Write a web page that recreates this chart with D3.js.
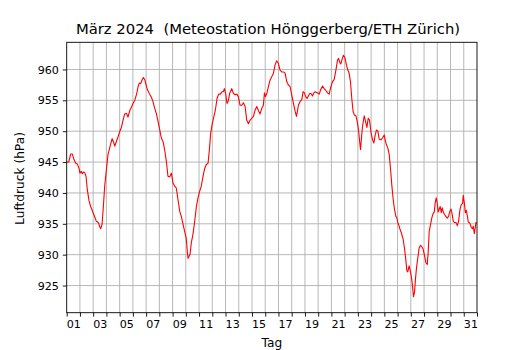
<!DOCTYPE html>
<html>
<head>
<meta charset="utf-8">
<script src="https://cdn.jsdelivr.net/npm/d3@7"></script>
<style>
  body { margin: 0; background: #fff; }
  svg { font-family: "DejaVu Sans", sans-serif; }
</style>
</head>
<body>
<svg id="chart" width="530" height="350"></svg>
<script>
// Zeit in Tagen seit 1. März 00:00, Luftdruck in hPa
const tag = [
  0.00, 0.15, 0.30, 0.43, 0.55, 0.68, 0.80, 0.93, 1.00, 1.10, 1.18, 1.26, 1.36, 1.46, 1.56, 1.69, 1.81, 1.96,
  2.12, 2.24, 2.39, 2.52, 2.57, 2.67, 2.77, 2.87, 3.00, 3.12, 3.27, 3.43, 3.53, 3.63, 3.75, 3.88, 4.00, 4.13,
  4.26, 4.38, 4.51, 4.63, 4.76, 4.91, 5.04, 5.16, 5.29, 5.39, 5.49, 5.59, 5.69, 5.79, 5.89, 5.99, 6.10,
  6.27, 6.40, 6.52, 6.65, 6.77, 6.90, 7.03, 7.15, 7.28, 7.40, 7.53, 7.65, 7.78, 7.91, 8.03, 8.16, 8.28, 8.41,
  8.54, 8.66, 8.79, 8.91, 9.04, 9.12, 9.17, 9.24, 9.32, 9.42, 9.54, 9.67, 9.80, 9.92, 10.05, 10.17, 10.30,
  10.43, 10.55, 10.68, 10.78, 10.88, 10.98, 11.11, 11.23, 11.36, 11.48, 11.61, 11.74, 11.84, 11.91, 12.01,
  12.11, 12.21, 12.31, 12.47, 12.60, 12.72, 12.85, 12.97, 13.10, 13.23, 13.35, 13.48, 13.60, 13.73, 13.86,
  13.98, 14.11, 14.23, 14.36, 14.49, 14.61, 14.74, 14.86, 14.94, 15.02, 15.12, 15.24, 15.37, 15.49, 15.62,
  15.74, 15.87, 15.99, 16.12, 16.25, 16.38, 16.50, 16.63, 16.75, 16.88, 17.00, 17.13, 17.26, 17.36, 17.43,
  17.51, 17.63, 17.76, 17.86, 17.96, 18.06, 18.16, 18.26, 18.36, 18.46, 18.57, 18.67, 18.77, 18.95, 19.08,
  19.20, 19.33, 19.45, 19.58, 19.71, 19.83, 19.96, 20.08, 20.21, 20.34, 20.46, 20.54, 20.64, 20.71, 20.79,
  20.91, 21.02, 21.14, 21.24, 21.34, 21.44, 21.54, 21.64, 21.74, 21.85, 21.95, 22.05, 22.12, 22.20, 22.27,
  22.35, 22.48, 22.58, 22.68, 22.78, 22.88, 23.00, 23.11, 23.21, 23.31, 23.41, 23.51, 23.61, 23.74, 23.86,
  23.99, 24.06, 24.16, 24.26, 24.37, 24.47, 24.57, 24.67, 24.77, 24.87, 24.94, 25.02, 25.12, 25.17, 25.29,
  25.42, 25.52, 25.62, 25.70, 25.77, 25.87, 25.95, 26.05, 26.13, 26.20, 26.28, 26.35, 26.43, 26.53, 26.63,
  26.73, 26.83, 26.93, 27.04, 27.14, 27.24, 27.31, 27.39, 27.49, 27.59, 27.69, 27.77, 27.84, 27.92, 27.99,
  28.07, 28.15, 28.22, 28.30, 28.37, 28.45, 28.55, 28.65, 28.75, 28.85, 28.95, 29.03, 29.10, 29.21, 29.31,
  29.41, 29.51, 29.61, 29.71, 29.81, 29.91, 29.96, 30.04, 30.12, 30.19, 30.27, 30.34, 30.42, 30.50, 30.57,
  30.65, 30.72, 30.80, 30.87, 30.92, 31.00
]
const luftdruck = [
  945.0, 945.0, 946.3, 946.3, 945.4, 944.8, 944.7, 944.0, 943.2, 943.5, 943.1, 943.4, 943.3, 942.7, 940.5, 938.7, 937.8, 937.0,
  936.1, 935.4, 935.2, 934.4, 934.2, 934.9, 937.8, 941.1, 943.8, 946.2, 947.5, 948.8, 948.3, 947.6, 948.3, 949.1, 949.9, 950.6,
  951.8, 952.8, 952.9, 952.3, 953.3, 954.0, 954.6, 955.1, 956.1, 957.2, 957.8, 957.7, 958.3, 958.7, 958.4, 957.6, 956.7,
  956.0, 955.5, 954.8, 953.7, 952.9, 951.6, 950.2, 948.9, 948.3, 947.0, 945.1, 942.7, 942.6, 943.2, 941.6, 941.1, 940.8, 938.9,
  937.0, 936.2, 934.9, 933.8, 932.5, 930.3, 929.4, 929.7, 930.1, 932.0, 933.3, 935.4, 937.8, 939.2, 940.3, 941.1, 942.7,
  944.0, 944.6, 944.8, 947.0, 949.7, 951.0, 952.3, 953.4, 955.3, 956.0, 956.0, 956.4, 956.4, 956.9, 956.1,
  954.5, 954.9, 956.1, 956.9, 956.1, 955.9, 956.0, 955.6, 954.2, 954.2, 954.6, 954.0, 951.8, 951.2, 951.8,
  952.1, 952.4, 953.4, 954.0, 953.3, 952.8, 953.7, 954.2, 956.2, 955.6, 956.1, 957.2, 958.3, 958.8, 959.4,
  960.7, 961.4, 961.0, 959.9, 959.6, 959.6, 959.4, 958.0, 957.5, 957.2, 955.9, 954.5, 953.2, 952.4, 953.2,
  954.2, 954.8, 955.1, 956.4, 956.2, 955.6, 955.3, 955.7, 956.1, 956.1, 955.7, 956.2, 956.4, 956.2, 956.0,
  956.8, 957.3, 956.9, 956.6, 956.2, 956.0, 957.2, 958.0, 958.4, 959.9, 961.5, 961.8, 961.1, 960.9, 961.5,
  962.3, 961.9, 960.7, 959.9, 959.4, 958.0, 955.3, 953.2, 952.6, 952.5, 951.6, 950.2, 948.6, 947.0, 948.9,
  950.8, 952.5, 951.6, 950.6, 952.1, 951.8, 949.7, 948.6, 948.1, 949.4, 950.2, 950.0, 948.7, 948.6, 948.9,
  949.4, 948.6, 947.8, 947.3, 946.2, 943.8, 941.1, 938.9, 937.3, 936.2, 936.0, 935.2, 934.6, 934.2, 933.5,
  932.5, 931.1, 929.2, 927.4, 927.2, 928.2, 927.5, 926.3, 924.9, 923.2, 923.9, 926.0, 927.9, 929.5, 931.1,
  931.5, 931.3, 930.9, 929.8, 928.7, 928.4, 930.3, 933.8, 934.9, 936.0, 936.7, 936.9, 938.4, 939.2, 938.4,
  936.9, 937.4, 937.8, 936.8, 937.6, 936.9, 936.5, 936.2, 935.9, 936.2, 937.0, 937.4, 936.8, 935.4, 935.2,
  935.2, 934.7, 935.4, 937.3, 938.1, 938.3, 939.6, 938.4, 936.8, 937.2, 936.3, 935.3, 935.2, 934.9, 934.4,
  934.2, 934.6, 933.4, 934.4, 935.2, 935.1
]
const tickTage = d3.range(0, 32)
const labelTage = ["01","03","05","07","09","11","13","15","17","19","21","23","25","27","29","31"]
const yTicks = [925, 930, 935, 940, 945, 950, 955, 960]

const daten = tag.map((t, i) => ({t: t, p: luftdruck[i]}))

const mLeft = 66.7, mRight = 477, mTop = 42.3, mBottom = 312.7

const x = d3.scaleLinear().domain([0, 31]).range([mLeft, mRight])
const y = d3.scaleLinear().domain([920.6, 964.4]).range([mBottom, mTop])

const svg = d3.select('#chart')

// Gitter
svg.append('g')
    .selectAll('line')
    .data(tickTage.slice(1, -1))
    .join('line')
    .attr('x1', d => x(d)).attr('x2', d => x(d))
    .attr('y1', mTop).attr('y2', mBottom)
    .attr('stroke', '#b0b0b0').attr('stroke-width', 0.9)

svg.append('g')
    .selectAll('line')
    .data(yTicks)
    .join('line')
    .attr('x1', mLeft).attr('x2', mRight)
    .attr('y1', d => y(d)).attr('y2', d => y(d))
    .attr('stroke', '#b0b0b0').attr('stroke-width', 0.9)

// Kurve
const line = d3.line().x(d => x(d.t)).y(d => y(d.p))
svg.append('path')
    .datum(daten)
    .attr('d', line)
    .attr('fill', 'none')
    .attr('stroke', '#ff0000')
    .attr('stroke-width', 1.1)
    .attr('stroke-linejoin', 'round')

// Achsen
const xAxis = svg.append('g')
    .attr('transform', `translate(0,${mBottom})`)
    .call(d3.axisBottom(x).tickValues(tickTage).tickFormat('').tickSize(3.9).tickSizeOuter(0))
xAxis.select('.domain').remove()
xAxis.selectAll('line').attr('stroke', '#000').attr('stroke-width', 0.9)

const xLabels = svg.append('g')
    .attr('transform', `translate(0,${mBottom})`)
    .call(d3.axisBottom(x)
        .tickValues(labelTage.map(l => +l - 0.5))
        .tickFormat(d => labelTage[labelTage.findIndex(l => +l - 0.5 === d)])
        .tickSize(0).tickPadding(7.8))
xLabels.select('.domain').remove()
xLabels.selectAll('text').attr('font-size', 11.1).attr('fill', '#000').attr('font-family', 'DejaVu Sans')

const yAxis = svg.append('g')
    .attr('transform', `translate(${mLeft},0)`)
    .call(d3.axisLeft(y).tickValues(yTicks).tickSize(3.9).tickPadding(3.9).tickSizeOuter(0))
yAxis.select('.domain').remove()
yAxis.selectAll('line').attr('stroke', '#000').attr('stroke-width', 0.9)
yAxis.selectAll('text').attr('font-size', 11.1).attr('fill', '#000').attr('font-family', 'DejaVu Sans')

// Rahmen
svg.append('rect')
    .attr('x', mLeft).attr('y', mTop)
    .attr('width', mRight - mLeft).attr('height', mBottom - mTop)
    .attr('fill', 'none').attr('stroke', '#000').attr('stroke-width', 0.9)

// Beschriftungen
svg.append('text')
    .attr('x', 268).attr('y', 34)
    .attr('text-anchor', 'middle')
    .attr('font-size', 14.8)
    .style('white-space', 'pre')
    .text('März 2024  (Meteostation Hönggerberg/ETH Zürich)')

svg.append('text')
    .attr('x', (mLeft + mRight) / 2).attr('y', 347)
    .attr('text-anchor', 'middle')
    .attr('font-size', 12.2)
    .text('Tag')

svg.append('text')
    .attr('transform', `translate(24,${(mTop + mBottom) / 2 + 1}) rotate(-90)`)
    .attr('text-anchor', 'middle')
    .attr('font-size', 12.2)
    .text('Luftdruck (hPa)')
</script>
</body>
</html>
